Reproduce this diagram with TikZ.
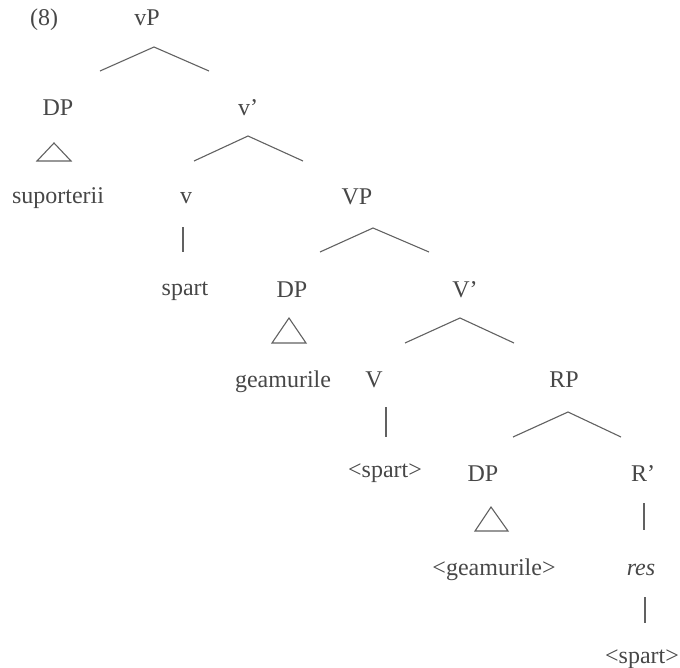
\documentclass[tikz,border=0pt]{standalone}
\usepackage{fontspec}
\setmainfont{Liberation Serif}
\begin{document}
\begin{tikzpicture}[x=1pt,y=-1pt,
  lab/.style={anchor=base,inner sep=0pt,text=black!72,font=\fontsize{24}{28}\selectfont},
  br/.style={draw=black!62,line width=1.1pt},
  tri/.style={draw=black!62,line width=1.1pt,line join=miter}]
\useasboundingbox (0,0) rectangle (680,667);
% labels
\node[lab] (ex) at (44,25) {(8)};
\node[lab] (vP) at (147,25) {vP};
\node[lab] (DP1) at (58,115) {DP};
\node[lab] (vbar) at (248,115) {v’};
\node[lab] (sup) at (58,203) {suporterii};
\node[lab] (v) at (186,203) {v};
\node[lab] (VP) at (357,204) {VP};
\node[lab] (spart1) at (185,295) {spart};
\node[lab] (DP2) at (292,297) {DP};
\node[lab] (Vbar) at (465,297) {V’};
\node[lab] (geam) at (283,387) {geamurile};
\node[lab] (V) at (374,387) {V};
\node[lab] (RP) at (564,387) {RP};
\node[lab] (spart2) at (385,477) {<spart>};
\node[lab] (DP3) at (483,481) {DP};
\node[lab] (Rbar) at (643,481) {R’};
\node[lab] (geam2) at (494,575) {<geamurile>};
\node[lab] (res) at (641,575) {\itshape res};
\node[lab] (spart3) at (642,663) {<spart>};
% branch points
\coordinate (a1) at (154,47);  \coordinate (l1) at (100,71);  \coordinate (r1) at (209,71);
\coordinate (a2) at (248,136); \coordinate (l2) at (194,161); \coordinate (r2) at (303,161);
\coordinate (a3) at (373,228); \coordinate (l3) at (320,252); \coordinate (r3) at (429,252);
\coordinate (a4) at (460,318); \coordinate (l4) at (405,343); \coordinate (r4) at (514,343);
\coordinate (a5) at (568,412); \coordinate (l5) at (513,437); \coordinate (r5) at (621,437);
\draw[br] (l1) -- (a1) -- (r1);
\draw[br] (l2) -- (a2) -- (r2);
\draw[br] (l3) -- (a3) -- (r3);
\draw[br] (l4) -- (a4) -- (r4);
\draw[br] (l5) -- (a5) -- (r5);
% triangles
\draw[tri] (54,143) -- (71,161) -- (37,161) -- cycle;
\draw[tri] (289,318) -- (306,343) -- (272,343) -- cycle;
\draw[tri] (491,507) -- (508,531) -- (475,531) -- cycle;
% unary bars
\coordinate (b1t) at (183,227); \coordinate (b1b) at (183,252);
\coordinate (b2t) at (386,407); \coordinate (b2b) at (386,437);
\coordinate (b3t) at (644,503); \coordinate (b3b) at (644,530);
\coordinate (b4t) at (645,597); \coordinate (b4b) at (645,623);
\draw[br] (b1t) -- (b1b);
\draw[br] (b2t) -- (b2b);
\draw[br] (b3t) -- (b3b);
\draw[br] (b4t) -- (b4b);
\end{tikzpicture}
\end{document}
